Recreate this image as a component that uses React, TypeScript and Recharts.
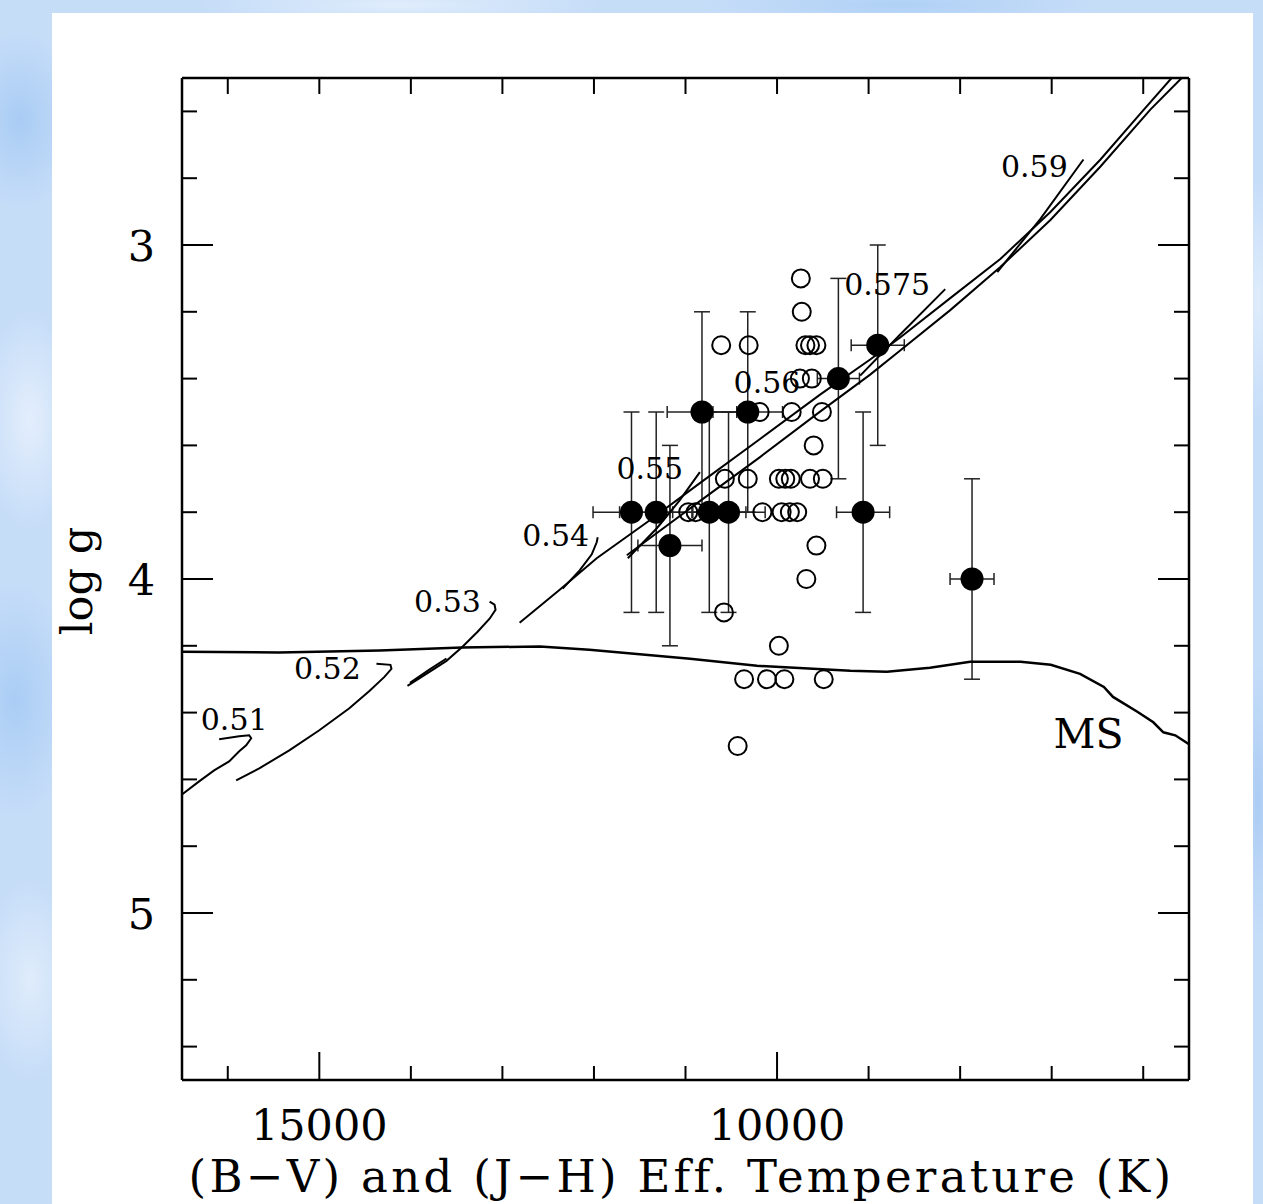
import { ScatterChart, Scatter, XAxis, YAxis, ErrorBar } from 'recharts';

const FONT = '"DejaVu Serif", "Liberation Serif", serif';

// axis ticks
const X_TICKS = [6000, 7000, 8000, 9000, 10000, 11000, 12000, 13000, 14000, 15000, 16000];
const X_LABELS = [10000, 15000];
const Y_TICKS = [2.6, 2.8, 3, 3.2, 3.4, 3.6, 3.8, 4, 4.2, 4.4, 4.6, 4.8, 5, 5.2, 5.4];
const Y_LABELS = [3, 4, 5];

// stars with error bars (filled)
const filledT = [11590, 11320, 11170, 10820, 10740, 10530, 10320, 9330, 8900, 9060, 7870];
const filledG = [3.8, 3.8, 3.9, 3.5, 3.8, 3.8, 3.5, 3.4, 3.3, 3.8, 4.0];
const filledErrT = [420, 400, 350, 380, 400, 400, 380, 230, 290, 290, 240];
const filledErrG = [0.3, 0.3, 0.3, 0.3, 0.3, 0.3, 0.3, 0.3, 0.3, 0.3, 0.3];

// open circles
const openT = [9740, 9730, 10610, 10310, 9690, 9640, 9570, 9750, 9620, 10190, 9840, 9510, 9600,
  10570, 10320, 9980, 9910, 9850, 9640, 9500, 10970, 10890, 10160, 9950, 9860, 9780,
  9570, 9680, 10580, 9980, 10360, 10110, 9920, 9490, 10430];
const openG = [3.1, 3.2, 3.3, 3.3, 3.3, 3.3, 3.3, 3.4, 3.4, 3.5, 3.5, 3.5, 3.6,
  3.7, 3.7, 3.7, 3.7, 3.7, 3.7, 3.7, 3.8, 3.8, 3.8, 3.8, 3.8, 3.8,
  3.9, 4.0, 4.1, 4.2, 4.3, 4.3, 4.3, 4.3, 4.5];

// main sequence
const msT = [16500, 15440, 14340, 13440, 12590, 12050, 10950, 10220, 9200, 8800, 8330, 7890, 7340, 7010, 6690, 6430, 6330, 6060, 5890, 5780, 5650, 5500];
const msG = [4.218, 4.22, 4.214, 4.205, 4.202, 4.212, 4.239, 4.26, 4.275, 4.278, 4.266, 4.248, 4.248, 4.257, 4.284, 4.323, 4.353, 4.398, 4.429, 4.459, 4.468, 4.495];

// HB tracks
const t051T = [16500, 16313, 16149, 15985, 15875, 15799, 15744, 15766, 15875, 16094];
const t051G = [4.645, 4.606, 4.573, 4.546, 4.516, 4.498, 4.477, 4.468, 4.471, 4.48];
const t052T = [15908, 15656, 15328, 15000, 14672, 14453, 14289, 14212, 14223, 14376];
const t052G = [4.603, 4.567, 4.513, 4.453, 4.387, 4.335, 4.293, 4.269, 4.257, 4.254];
const t053T = [14037, 13797, 13611, 13436, 13271, 13140, 13075, 13086, 13140];
const t053G = [4.32, 4.278, 4.245, 4.203, 4.158, 4.119, 4.092, 4.077, 4.068];
const t053bT = [14010, 13790, 13611];
const t053bG = [4.311, 4.27, 4.238];
const t054T = [12342, 12156, 12024, 11970, 11959];
const t054G = [4.029, 3.974, 3.926, 3.89, 3.875];
const t055T = [11630, 11313, 11062, 10843];
const t055G = [3.938, 3.848, 3.764, 3.68];
const upperT = [12812, 12374, 11970, 11390, 10843, 10186, 9530, 8983, 8655, 8108, 7561, 7014, 6467, 6029, 5690];
const upperG = [4.131, 4.032, 3.938, 3.824, 3.713, 3.581, 3.448, 3.343, 3.277, 3.159, 3.042, 2.901, 2.744, 2.606, 2.5];
const lowerT = [11641, 10843, 10186, 9530, 8983, 8655, 8108, 7561, 7014, 6467, 5920, 5580];
const lowerG = [3.929, 3.767, 3.635, 3.499, 3.388, 3.316, 3.195, 3.066, 2.925, 2.765, 2.594, 2.5];
const t0575T = [9092, 8655, 8163];
const t0575G = [3.391, 3.268, 3.132];
const t059T = [7594, 7123, 6653];
const t059G = [3.081, 2.922, 2.744];

// track labels
const labelText = ['0.51', '0.52', '0.53', '0.54', '0.55', '0.56', '0.575', '0.59'];
const labelT = [15930, 14912, 13600, 12418, 11390, 10110, 8797, 7189];
const labelG = [4.42, 4.269, 4.068, 3.869, 3.668, 3.412, 3.117, 2.765];

const zip = (t: number[], g: number[]) => t.map((v, i) => ({ t: v, g: g[i] }));

const filled = filledT.map((t, i) => ({ t, g: filledG[i], et: filledErrT[i], eg: filledErrG[i] }));
const open = zip(openT, openG);
const tracks = [
  zip(t051T, t051G), zip(t052T, t052G), zip(t053T, t053G), zip(t053bT, t053bG),
  zip(t054T, t054G), zip(t055T, t055G), zip(upperT, upperG), zip(lowerT, lowerG),
  zip(t0575T, t0575G), zip(t059T, t059G),
];
const labels = labelText.map((s, i) => ({ t: labelT[i], g: labelG[i], s }));
const msLabel = [{ t: 6598, g: 4.465, s: 'MS' }];

const isMajor = (v: number) => Math.abs(v - Math.round(v)) < 1e-6;

const BottomTick = ({ x, y, payload }: any) => {
  const major = X_LABELS.includes(payload.value);
  return (
    <g>
      <line x1={x} x2={x} y1={y} y2={y - (major ? 28 : 14)} stroke="#000" strokeWidth={2} />
      {major && (
        <text x={x} y={y + 60} textAnchor="middle" fontFamily={FONT} fontSize={43} fill="#000">
          {payload.value}
        </text>
      )}
    </g>
  );
};

const TopTick = ({ x, y }: any) => <line x1={x} x2={x} y1={y} y2={y + 16} stroke="#000" strokeWidth={2} />;

const LeftTick = ({ x, y, payload }: any) => {
  const major = isMajor(payload.value) && Y_LABELS.includes(Math.round(payload.value));
  return (
    <g>
      <line x1={x} x2={x + (major ? 31 : 15)} y1={y} y2={y} stroke="#000" strokeWidth={2} />
      {major && (
        <text x={x - 27} y={y + 16} textAnchor="end" fontFamily={FONT} fontSize={43} fill="#000">
          {Math.round(payload.value)}
        </text>
      )}
    </g>
  );
};

const RightTick = ({ x, y, payload }: any) => {
  const major = isMajor(payload.value);
  return <line x1={x} x2={x - (major ? 31 : 15)} y1={y} y2={y} stroke="#000" strokeWidth={2} />;
};

const NoDot = () => <g />;
const OpenDot = ({ cx, cy }: any) => <circle cx={cx} cy={cy} r={9} fill="none" stroke="#000" strokeWidth={2} />;
const FilledDot = ({ cx, cy }: any) => <circle cx={cx} cy={cy} r={11.5} fill="#000" />;
const TrackLabel = ({ cx, cy, payload }: any) => (
  <text x={cx} y={cy} textAnchor="middle" dominantBaseline="central" fontFamily={FONT} fontSize={30} fill="#000">
    {payload.s}
  </text>
);
const MsLabel = ({ cx, cy, payload }: any) => (
  <text x={cx} y={cy} textAnchor="middle" dominantBaseline="central" fontFamily={FONT} fontSize={41} fill="#000">
    {payload.s}
  </text>
);

const frame = { stroke: '#000', strokeWidth: 2.5 };

const bgStyle: React.CSSProperties = {
  position: 'absolute',
  left: 0,
  top: 0,
  width: 1263,
  height: 1204,
  overflow: 'hidden',
  backgroundColor: '#c6ddf8',
  backgroundImage: [
    'radial-gradient(ellipse 60px 90px at 20px 120px, #a9ccf4 0%, rgba(169,204,244,0) 100%)',
    'radial-gradient(ellipse 50px 110px at 30px 420px, #e3eefc 0%, rgba(227,238,252,0) 100%)',
    'radial-gradient(ellipse 60px 120px at 15px 700px, #aacdf5 0%, rgba(170,205,245,0) 100%)',
    'radial-gradient(ellipse 50px 100px at 30px 980px, #dfecfb 0%, rgba(223,236,251,0) 100%)',
    'radial-gradient(ellipse 200px 20px at 400px 5px, #e0edfc 0%, rgba(224,237,252,0) 100%)',
    'radial-gradient(ellipse 200px 20px at 900px 5px, #afd0f5 0%, rgba(175,208,245,0) 100%)',
    'radial-gradient(ellipse 20px 120px at 1258px 300px, #dfecfb 0%, rgba(223,236,251,0) 100%)',
    'radial-gradient(ellipse 20px 140px at 1258px 800px, #acccf4 0%, rgba(172,204,244,0) 100%)',
  ].join(','),
};

export default function App() {
  return (
    <div style={bgStyle}>
      <div style={{ position: 'absolute', left: 52, top: 13, width: 1201, height: 1191, background: '#fff' }} />
      <div style={{ position: 'absolute', left: 0, top: 0 }}>
        <ScatterChart width={1263} height={1204} margin={{ top: 77, right: 73, bottom: 64, left: 82 }}>
          <XAxis
            xAxisId="b"
            type="number"
            dataKey="t"
            domain={[5500, 16500]}
            reversed
            allowDataOverflow
            ticks={X_TICKS}
            interval={0}
            tickSize={0}
            tickMargin={0}
            tickLine={false}
            tick={<BottomTick />}
            axisLine={frame}
            height={60}
            label={({ viewBox }: any) => (
              <text
                x={viewBox.x + viewBox.width / 2 - 4}
                y={viewBox.y + 112}
                textAnchor="middle"
                fontFamily={FONT}
                fontSize={45}
                letterSpacing={3.3}
                fill="#000"
              >
                (B−V) and (J−H) Eff. Temperature (K)
              </text>
            )}
          />
          <XAxis
            xAxisId="t"
            orientation="top"
            type="number"
            dataKey="t"
            domain={[5500, 16500]}
            reversed
            allowDataOverflow
            ticks={X_TICKS}
            interval={0}
            tickSize={0}
            tickMargin={0}
            tickLine={false}
            tick={<TopTick />}
            axisLine={frame}
            height={1}
          />
          <YAxis
            yAxisId="l"
            type="number"
            dataKey="g"
            domain={[2.5, 5.5]}
            reversed
            allowDataOverflow
            ticks={Y_TICKS}
            interval={0}
            tickSize={0}
            tickMargin={0}
            tickLine={false}
            tick={<LeftTick />}
            axisLine={frame}
            width={100}
            label={({ viewBox }: any) => (
              <text
                x={viewBox.x + 10}
                y={581}
                transform={`rotate(-90, ${viewBox.x + 10}, 581)`}
                textAnchor="middle"
                fontFamily={FONT}
                fontSize={43}
                fill="#000"
              >
                log g
              </text>
            )}
          />
          <YAxis
            yAxisId="r"
            orientation="right"
            type="number"
            dataKey="g"
            domain={[2.5, 5.5]}
            reversed
            allowDataOverflow
            ticks={Y_TICKS}
            interval={0}
            tickSize={0}
            tickMargin={0}
            tickLine={false}
            tick={<RightTick />}
            axisLine={frame}
            width={1}
          />

          <Scatter
            xAxisId="b"
            yAxisId="l"
            data={zip(msT, msG)}
            line={{ stroke: '#000', strokeWidth: 2.5 }}
            lineType="joint"
            shape={NoDot}
            isAnimationActive={false}
          />
          {tracks.map((d, i) => (
            <Scatter
              key={i}
              xAxisId="b"
              yAxisId="l"
              data={d}
              line={{ stroke: '#000', strokeWidth: 2 }}
              lineType="joint"
              shape={NoDot}
              isAnimationActive={false}
            />
          ))}
          <Scatter xAxisId="b" yAxisId="l" data={labels} shape={TrackLabel} isAnimationActive={false} />
          <Scatter xAxisId="b" yAxisId="l" data={msLabel} shape={MsLabel} isAnimationActive={false} />
          <Scatter xAxisId="b" yAxisId="l" data={open} shape={OpenDot} isAnimationActive={false} />
          <Scatter xAxisId="b" yAxisId="l" data={filled} shape={FilledDot} isAnimationActive={false}>
            <ErrorBar dataKey="eg" direction="y" width={8} stroke="#222" strokeWidth={1.5} />
            <ErrorBar dataKey="et" direction="x" width={6} stroke="#222" strokeWidth={1.5} />
          </Scatter>
        </ScatterChart>
      </div>
    </div>
  );
}
